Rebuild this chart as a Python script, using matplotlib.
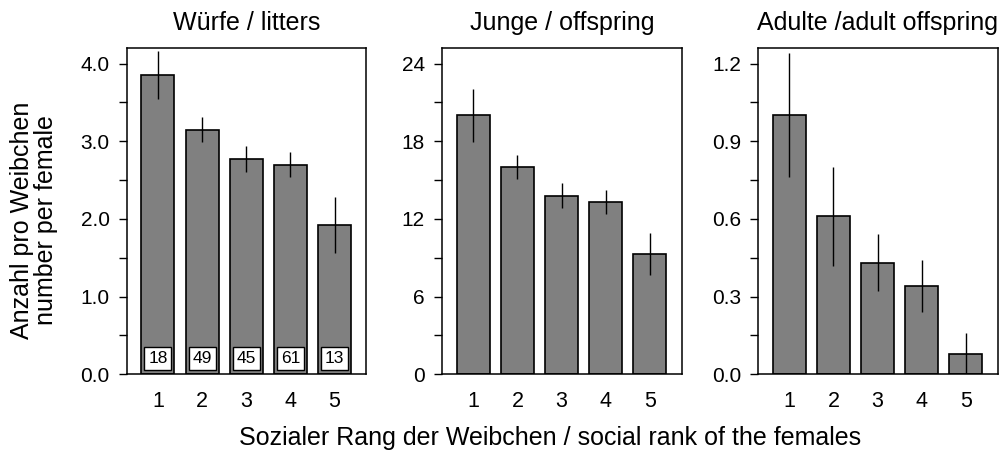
import matplotlib
matplotlib.use("Agg")
import matplotlib.pyplot as plt
from matplotlib.ticker import MultipleLocator, FormatStrFormatter

plt.rcParams['font.family'] = ['Liberation Sans', 'DejaVu Sans']

ranks = [1, 2, 3, 4, 5]
rank_labels = ['1', '2', '3', '4', '5']

titles = ['Würfe / litters', 'Junge / offspring', 'Adulte /adult offspring']

litters = [3.85, 3.15, 2.77, 2.70, 1.92]
litters_err = [0.31, 0.165, 0.17, 0.165, 0.36]

offspring = [20.0, 16.0, 13.8, 13.3, 9.3]
offspring_err = [2.05, 0.9, 0.98, 0.9, 1.63]

adults = [1.00, 0.61, 0.43, 0.34, 0.08]
adults_err = [0.24, 0.19, 0.11, 0.10, 0.08]

n_females = [18, 49, 45, 61, 13]

values = [litters, offspring, adults]
errors = [litters_err, offspring_err, adults_err]
ymax = [4.2, 25.2, 1.26]
major = [1.0, 6, 0.3]
minor = [0.5, 3, 0.15]
fmts = ['%.1f', '%d', '%.1f']

fig = plt.figure(figsize=(10.05, 4.54), dpi=100)
lefts = [127 / 1005, 442.3 / 1005, 758.3 / 1005]
bottom = 1 - 374.3 / 454
height = (374.3 - 48) / 454
width = 0.2382

for i in range(3):
    ax = fig.add_axes([lefts[i], bottom, width, height])
    ax.bar(ranks, values[i], width=0.75, color='#808080', edgecolor='black',
           linewidth=1.2, zorder=2)
    ax.errorbar(ranks, values[i], yerr=errors[i], fmt='none', ecolor='black',
                elinewidth=1.0, capsize=0, zorder=3)
    ax.set_xlim(0.3, 5.72)
    ax.set_ylim(0, ymax[i])
    ax.set_xticks(ranks)
    ax.set_xticklabels(rank_labels)
    ax.yaxis.set_major_locator(MultipleLocator(major[i]))
    ax.yaxis.set_minor_locator(MultipleLocator(minor[i]))
    ax.yaxis.set_major_formatter(FormatStrFormatter(fmts[i]))
    ax.tick_params(axis='y', which='both', direction='out', length=5.5,
                   width=1.0, labelsize=15, pad=7)
    ax.tick_params(axis='x', length=0, labelsize=15.5, pad=12)
    for sp in ax.spines.values():
        sp.set_linewidth(1.1)
    ax.set_title(titles[i], fontsize=18, pad=13)
    if i == 0:
        for x, n in zip(ranks, n_females):
            ax.text(x, 0.2, str(n), ha='center', va='center', fontsize=12.5,
                    zorder=4,
                    bbox=dict(boxstyle='square,pad=0.22', facecolor='white',
                              edgecolor='black', linewidth=1.0))

fig.text(34 / 1005, 1 - 220 / 454, 'Anzahl pro Weibchen\nnumber per female',
         rotation=90, ha='center', va='center', fontsize=18,
         linespacing=1.05)
fig.text(550 / 1005, 1 - 438 / 454,
         'Sozialer Rang der Weibchen / social rank of the females',
         ha='center', va='center', fontsize=18)

fig.savefig('out.png', dpi=100)
